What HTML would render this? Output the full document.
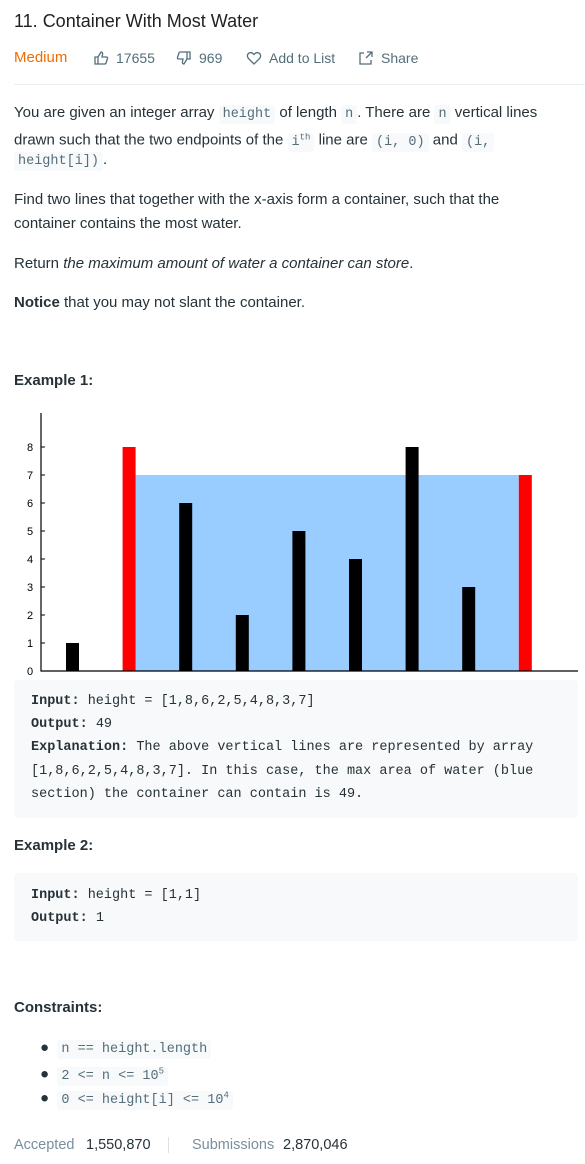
<!DOCTYPE html>
<html><head><meta charset="utf-8"><style>
*{margin:0;padding:0;box-sizing:border-box}
body{width:585px;height:1164px;background:#fff;font-family:"Liberation Sans",sans-serif;color:#263238;position:relative;overflow:hidden}
.a{position:absolute;white-space:nowrap}
.p{font-size:15px;line-height:24px}
code,.m{font-family:"Liberation Mono",monospace}
code{background:#f7f9fa;color:#546e7a;font-size:13.5px;padding:2px 4px;border-radius:3px}
.pre{position:absolute;left:14px;width:564px;background:#f7f9fa;border-radius:4px}
.pre div{position:absolute;left:17px;font-family:"Liberation Mono",monospace;font-size:13.5px;line-height:23px;white-space:nowrap;color:#263238}
.meta{font-size:14px;line-height:20px;color:#546e7a}
</style></head><body>
<div class="a" style="left:14px;top:8px;font-size:18px;line-height:26px;font-weight:500;color:#212121">11. Container With Most Water</div>
<div class="a meta" style="left:14px;top:48px;color:#ef6c00;font-size:15px">Medium</div>
<svg class="a" style="left:93px;top:50px" width="16" height="16" viewBox="0 0 16 16"><path d="M2 7h3v7H2zM5 7l3-5c1 0 2 1 1.5 2.5L9 7h4.5c.8 0 1.3.7 1 1.5l-1.5 4.5c-.2.6-.7 1-1.3 1H5" fill="none" stroke="#546e7a" stroke-width="1.3"/></svg>
<div class="a meta" style="left:116px;top:48px">17655</div>
<svg class="a" style="left:176px;top:50px" width="16" height="16" viewBox="0 0 16 16"><g transform="rotate(180 8 8)"><path d="M2 7h3v7H2zM5 7l3-5c1 0 2 1 1.5 2.5L9 7h4.5c.8 0 1.3.7 1 1.5l-1.5 4.5c-.2.6-.7 1-1.3 1H5" fill="none" stroke="#546e7a" stroke-width="1.3"/></g></svg>
<div class="a meta" style="left:199px;top:48px">969</div>
<svg class="a" style="left:246px;top:50px" width="16" height="16" viewBox="0 0 16 16"><path d="M8 14L2.5 8.5C1 7 1 4.5 2.8 3.2 4.5 2 6.5 2.8 8 4.5 9.5 2.8 11.5 2 13.2 3.2 15 4.5 15 7 13.5 8.5z" fill="none" stroke="#546e7a" stroke-width="1.3"/></svg>
<div class="a meta" style="left:269px;top:48px">Add to List</div>
<svg class="a" style="left:358px;top:50px" width="16" height="16" viewBox="0 0 16 16"><path d="M6 3H2v11h11v-4M9 2h5v5M14 2L8 8" fill="none" stroke="#546e7a" stroke-width="1.3"/></svg>
<div class="a meta" style="left:381px;top:48px">Share</div>
<div class="a" style="left:14px;top:84px;width:571px;height:1px;background:#eceff1"></div>

<div class="a p" style="left:14px;top:101px">You are given an integer array <code>height</code> of length <code>n</code>. There are <code>n</code> vertical lines</div>
<div class="a p" style="left:14px;top:125px">drawn such that the two endpoints of the <code>i<sup style="font-size:9px">th</sup></code> line are <code>(i, 0)</code> and <code>(i,</code></div>
<div class="a p" style="left:14px;top:148px"><code>height[i])</code>.</div>
<div class="a p" style="left:14px;top:188px">Find two lines that together with the x-axis form a container, such that the</div>
<div class="a p" style="left:14px;top:212px">container contains the most water.</div>
<div class="a p" style="left:14px;top:252px">Return <i>the maximum amount of water a container can store</i>.</div>
<div class="a p" style="left:14px;top:291px"><b>Notice</b> that you may not slant the container.</div>
<div class="a p" style="left:14px;top:369px;font-weight:bold">Example 1:</div>

<svg class="a" id="chart" style="left:0;top:400px" width="585" height="280"></svg>

<div class="pre" style="top:680px;height:138px">
<div style="top:10px"><b>Input:</b> height = [1,8,6,2,5,4,8,3,7]</div>
<div style="top:33px"><b>Output:</b> 49</div>
<div style="top:56px"><b>Explanation:</b> The above vertical lines are represented by array</div>
<div style="top:80px">[1,8,6,2,5,4,8,3,7]. In this case, the max area of water (blue</div>
<div style="top:103px">section) the container can contain is 49.</div>
</div>
<div class="a p" style="left:14px;top:834px;font-weight:bold">Example 2:</div>
<div class="pre" style="top:873px;height:68px">
<div style="top:11px"><b>Input:</b> height = [1,1]</div>
<div style="top:34px"><b>Output:</b> 1</div>
</div>
<div class="a p" style="left:14px;top:996px;font-weight:bold">Constraints:</div>
<div class="a p" style="left:40px;top:1036px">●&nbsp;&nbsp;<code>n == height.length</code></div>
<div class="a p" style="left:40px;top:1059px">●&nbsp;&nbsp;<code>2 &lt;= n &lt;= 10<sup style="font-size:9px">5</sup></code></div>
<div class="a p" style="left:40px;top:1083px">●&nbsp;&nbsp;<code>0 &lt;= height[i] &lt;= 10<sup style="font-size:9px">4</sup></code></div>
<div class="a meta" style="left:14px;top:1135px;font-size:14.5px;color:#78909c">Accepted</div>
<div class="a meta" style="left:86px;top:1135px;font-size:14.5px;color:#263238">1,550,870</div>
<div class="a" style="left:168px;top:1137px;width:1px;height:16px;background:#e0e0e0"></div>
<div class="a meta" style="left:192px;top:1135px;font-size:14.5px;color:#78909c">Submissions</div>
<div class="a meta" style="left:283px;top:1135px;font-size:14.5px;color:#263238">2,870,046</div>

<script>
const heights=[1,8,6,2,5,4,8,3,7];
const highlight=[1,8];
const yTicks=[0,1,2,3,4,5,6,7,8];
const svg=document.getElementById('chart');
const NS='http://www.w3.org/2000/svg';
const x=i=>72.5+56.6*i;
const y=v=>271-28*v;
const bw=13;
function mk(t,a){const e=document.createElementNS(NS,t);for(const k in a)e.setAttribute(k,a[k]);svg.appendChild(e);return e;}
const lv=Math.min(heights[highlight[0]],heights[highlight[1]]);
const w=mk('rect',{x:x(highlight[0])+bw/2,y:y(lv),width:x(highlight[1])-x(highlight[0])-bw,height:y(0)-y(lv),fill:'#99ccff'});


heights.forEach((h,i)=>{
const r=mk('rect',{x:x(i)-bw/2,y:y(h),width:bw,height:y(0)-y(h),fill:highlight.includes(i)?'#ff0000':'#000'});


});
const ax=mk('path',{d:'M41 13V271H578',fill:'none',stroke:'#000','stroke-width':1.2});


yTicks.forEach(t=>{
if(t>0){const tk=mk('line',{x1:41,x2:45,y1:y(t),y2:y(t),stroke:'#000','stroke-width':1});

}
const tx=mk('text',{x:30,y:y(t)+4,'font-size':11,'font-family':'Liberation Sans, sans-serif','text-anchor':'middle',fill:'#000'});
tx.textContent=t;


});
</script>
</body></html>
